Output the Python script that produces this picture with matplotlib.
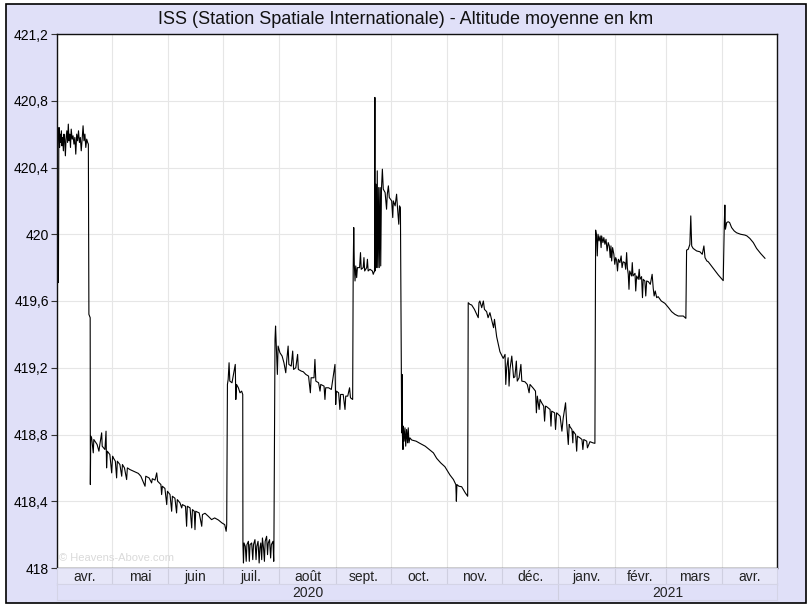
import numpy as np
import pandas as pd
import matplotlib
matplotlib.use('Agg')
import matplotlib.pyplot as plt
import matplotlib.dates as mdates
from matplotlib.patches import Rectangle

plt.rcParams['font.family'] = ['Liberation Sans', 'DejaVu Sans']

# jours depuis le 1er avril 2020 / altitude moyenne (km)
start = '2020-04-01'
day = [
    0.0, 0.3, 0.6, 0.8, 1.0, 1.1, 1.4, 1.7, 2.0, 2.4, 2.7, 3.1, 3.5, 3.8, 4.2, 4.6, 5.0, 5.4, 5.8,
    6.2, 6.6, 7.0, 7.4, 7.8, 8.3, 8.8, 9.3, 9.8, 10.3, 10.8, 11.3, 11.8, 12.3, 12.8, 13.3, 13.8,
    14.3, 14.8, 15.3, 15.8, 16.3, 16.8, 17.2, 17.5, 18.2, 18.3, 18.5,
    19.0, 19.9, 20.2, 20.8, 22.0, 23.0, 23.5, 24.5, 24.8, 26.3, 26.9, 27.2, 27.6, 29.0, 30.0, 30.5,
    30.9, 32.0, 32.7, 33.1, 34.5, 35.5, 35.9, 37.0, 38.2, 38.6, 40.0, 42.0, 44.6, 46.0, 48.3, 48.7,
    50.5, 51.9, 52.3, 53.8, 54.7, 55.2, 57.0, 57.4, 57.8, 59.2, 60.2, 60.6, 62.0, 62.9, 63.3, 64.7,
    65.6, 66.0, 67.5, 68.4, 68.8, 70.5, 71.1, 71.5, 72.0, 73.0, 73.9, 74.3, 75.3, 75.7, 76.1, 78.0,
    79.4, 79.8, 81.2, 83.0, 84.8, 86.5, 88.5, 90.5, 92.0, 92.8, 93.1,
    93.5, 93.9, 94.4, 94.8, 96.0, 97.8, 98.1, 98.5, 99.5, 100.4, 101.3, 101.9,
    102.0, 102.3, 102.6, 103.3, 103.8, 104.2, 105.0, 105.5, 105.9, 106.8, 107.4, 107.8, 108.6,
    109.2, 109.6, 110.3, 110.9, 111.3, 111.8, 112.3, 112.7, 113.3, 113.8, 114.2, 115.0, 115.5,
    115.9, 116.6, 117.2, 117.6, 118.5, 118.9, 119.0,
    119.6, 119.9, 120.3, 120.9, 121.3, 122.3, 123.5, 124.5, 125.5, 126.0, 126.8, 127.2, 128.5,
    129.3, 129.8, 131.0, 132.0, 132.4, 134.0, 135.1, 136.5, 138.0, 139.0, 139.4, 141.0, 141.5,
    142.0, 143.5, 144.3, 144.7, 146.5, 147.0, 147.4, 149.0, 150.5, 152.5, 152.9, 153.3, 154.5,
    155.2, 155.6, 157.0, 158.0, 158.4, 159.5, 160.5, 161.0, 162.2,
    162.5, 162.8, 163.1, 163.5, 163.9, 164.4, 164.8, 166.0, 166.5, 166.9, 168.0, 168.4, 168.8,
    169.9, 170.3, 170.7, 171.7, 173.0, 173.5, 174.2, 174.4, 174.5, 175.0, 175.3, 175.7, 176.0,
    176.5, 176.8, 177.3, 177.6, 178.0, 178.5, 179.0, 180.0, 180.8, 181.2, 181.8, 182.3, 183.6,
    184.2, 184.5, 185.5, 186.3, 186.8, 187.5, 187.9, 188.4,
    189.1, 189.3, 189.5, 189.8, 190.0, 190.4, 190.9, 191.3, 191.8, 192.3, 192.7, 193.1, 193.6,
    194.6, 197.0, 199.1, 202.0, 204.6, 206.5, 208.3, 210.5, 212.8, 214.3, 215.6, 217.5, 218.8,
    219.1, 219.4, 220.5, 222.0, 224.0, 225.3,
    225.6, 226.5, 227.5, 229.0, 231.1, 231.5, 232.0, 233.0, 233.9, 234.5, 235.7, 236.5, 237.5,
    238.5, 239.5, 240.0, 241.2, 243.0, 244.8, 245.8, 246.2, 246.7, 247.5, 248.0, 248.5, 249.5,
    250.5, 251.2, 252.0, 252.5, 253.5, 254.5, 255.0, 256.7, 258.0, 259.0, 259.5, 261.3, 262.5,
    263.0, 263.5, 264.5, 265.0, 265.9, 267.0, 267.5, 268.0, 268.6, 270.5, 271.0, 271.4, 273.0,
    273.5, 274.1, 276.0, 277.0, 277.7, 279.0, 279.6, 280.5, 281.0, 281.4, 282.5, 283.0, 283.2,
    284.5, 285.1, 285.5, 286.9, 288.0, 288.5, 289.0, 290.6, 291.0, 292.4, 294.0, 295.1,
    295.5, 296.0, 296.4, 296.8, 297.4, 298.0, 298.5, 298.8, 299.5, 300.0, 300.6, 301.2, 301.8,
    302.4, 303.0, 303.5, 303.9, 304.3, 304.8, 305.5, 306.0, 306.5, 307.0, 307.5, 308.0, 308.8,
    309.5, 310.0, 310.6, 311.5, 312.0, 312.5, 312.9, 313.4, 313.8, 314.2, 315.2, 315.6, 316.0,
    317.1, 317.5, 318.0, 318.9, 319.4, 319.8, 320.7, 321.2, 321.6, 322.5, 323.0, 323.5, 324.4,
    325.5, 326.5, 327.1, 327.6, 328.2, 329.0, 329.8, 331.5, 333.5, 335.5, 337.2, 339.0, 340.8,
    342.0, 343.6, 345.0,
    345.4, 346.3, 347.2, 347.7, 348.2, 349.0, 350.9, 352.7, 354.0, 354.9, 355.5, 356.5, 357.3,
    360.0, 362.8, 365.5,
    366.1, 366.4, 366.7, 367.4, 368.2, 369.0, 370.1, 371.5, 372.8, 375.0, 377.4, 378.5, 380.1,
    382.0, 383.8, 386.0, 388.4,
]
altitude_km = [
    419.83, 419.80, 419.71, 419.78, 420.62, 420.64, 420.52, 420.60, 420.55, 420.62, 420.53, 420.58,
    420.50, 420.60, 420.57, 420.47, 420.58, 420.62, 420.55, 420.66, 420.56, 420.60, 420.52, 420.63,
    420.57, 420.59, 420.54, 420.58, 420.48, 420.60, 420.56, 420.62, 420.55, 420.58, 420.50, 420.57,
    420.65, 420.56, 420.60, 420.52, 420.57, 420.55, 420.54, 419.52, 419.50, 418.50, 418.79,
    418.78, 418.69, 418.77, 418.76, 418.74, 418.70, 418.74, 418.81, 418.73, 418.71, 418.82, 418.60,
    418.70, 418.68, 418.57, 418.67, 418.66, 418.64, 418.54, 418.64, 418.62, 418.55, 418.62, 418.60,
    418.53, 418.60, 418.59, 418.58, 418.567, 418.55, 418.49, 418.55, 418.54, 418.51, 418.535,
    418.527, 418.57, 418.52, 418.50, 418.44, 418.49, 418.477, 418.38, 418.46, 418.44, 418.34,
    418.43, 418.418, 418.33, 418.41, 418.39, 418.36, 418.38, 418.37, 418.25, 418.37, 418.367,
    418.36, 418.24, 418.35, 418.34, 418.23, 418.34, 418.33, 418.25, 418.32, 418.328, 418.31,
    418.29, 418.30, 418.288, 418.27, 418.26, 418.22, 418.258,
    419.10, 419.13, 419.23, 419.12, 419.11, 419.22, 419.01, 419.10, 419.08, 419.05, 419.06, 419.04,
    418.14, 418.03, 418.15, 418.13, 418.04, 418.14, 418.16, 418.04, 418.14, 418.15, 418.05, 418.14,
    418.17, 418.05, 418.13, 418.16, 418.03, 418.12, 418.15, 418.05, 418.18, 418.12, 418.04, 418.16,
    418.19, 418.08, 418.15, 418.17, 418.06, 418.14, 418.16, 418.04, 418.13,
    419.37, 419.45, 419.34, 419.16, 419.33, 419.29, 419.27, 419.23, 419.17, 419.24, 419.33, 419.22,
    419.21, 419.30, 419.19, 419.20, 419.28, 419.19, 419.18, 419.176, 419.16, 419.15, 419.05,
    419.14, 419.14, 419.25, 419.12, 419.11, 419.06, 419.10, 419.09, 419.01, 419.08, 419.08,
    419.07, 419.22, 418.98, 419.06, 419.05, 418.95, 419.04, 419.04, 418.95, 419.03, 419.03,
    419.08, 419.02, 419.01,
    419.80, 420.04, 419.82, 419.72, 419.81, 419.74, 419.80, 419.80, 419.89, 419.79, 419.80, 419.86,
    419.78, 419.80, 419.85, 419.78, 419.79, 419.78, 419.76, 419.78, 420.82, 419.78, 420.30, 419.80,
    420.38, 419.80, 420.28, 419.80, 420.28, 419.81, 420.27, 420.39, 420.27, 420.25, 420.15, 420.24,
    420.29, 420.22, 420.20, 420.10, 420.20, 420.17, 420.24, 420.16, 420.06, 420.17, 420.16,
    418.81, 419.16, 418.80, 418.71, 418.85, 418.76, 418.84, 418.73, 418.83, 418.75, 418.84, 418.75,
    418.78, 418.767, 418.76, 418.747, 418.73, 418.707, 418.69, 418.657, 418.63, 418.607, 418.58,
    418.557, 418.53, 418.50, 418.40, 418.50, 418.49, 418.487, 418.45, 418.43,
    419.59, 419.58, 419.576, 419.55, 419.50, 419.59, 419.60, 419.56, 419.60, 419.55, 419.536,
    419.50, 419.53, 419.486, 419.44, 419.49, 419.386, 419.296, 419.256, 419.28, 419.10, 419.20,
    419.26, 419.09, 419.19, 419.27, 419.14, 419.146, 419.24, 419.12, 419.14, 419.22, 419.12,
    419.116, 419.10, 419.05, 419.10, 419.077, 419.06, 418.93, 419.03, 418.95, 419.01, 418.99,
    418.97, 418.88, 418.97, 418.967, 418.95, 418.85, 418.94, 418.93, 418.83, 418.93, 418.91,
    418.82, 418.897, 418.99, 418.87, 418.74, 418.86, 418.847, 418.83, 418.75, 418.82, 418.80,
    418.70, 418.79, 418.78, 418.77, 418.71, 418.77, 418.76, 418.72, 418.757, 418.75, 418.747,
    420.025, 419.99, 419.87, 420.00, 419.96, 419.99, 419.92, 419.99, 419.95, 419.98, 419.94,
    419.97, 419.90, 419.95, 419.93, 419.86, 419.93, 419.84, 419.92, 419.88, 419.82, 419.86,
    419.845, 419.78, 419.85, 419.83, 419.87, 419.80, 419.835, 419.83, 419.79, 419.89, 419.80,
    419.76, 419.67, 419.78, 419.75, 419.83, 419.75, 419.766, 419.66, 419.75, 419.73, 419.79,
    419.73, 419.746, 419.62, 419.73, 419.72, 419.63, 419.72, 419.716, 419.70, 419.76, 419.676,
    419.63, 419.66, 419.62, 419.626, 419.60, 419.586, 419.56, 419.536, 419.52, 419.51, 419.51,
    419.51, 419.496,
    419.905, 419.91, 419.94, 420.11, 419.93, 419.915, 419.90, 419.895, 419.88, 419.93, 419.86,
    419.84, 419.835, 419.796, 419.756, 419.722,
    420.07, 420.175, 420.03, 420.07, 420.075, 420.07, 420.04, 420.02, 420.009, 420.00, 419.995,
    419.99, 419.975, 419.95, 419.915, 419.885, 419.856,
]

month_labels = ['avr.', 'mai', 'juin', 'juil.', 'août', 'sept.', 'oct.',
                'nov.', 'déc.', 'janv.', 'févr.', 'mars', 'avr.']
year_labels = ['2020', '2021']
y_ticks = [418, 418.4, 418.8, 419.2, 419.6, 420, 420.4, 420.8, 421.2]

W, H = 812, 613
LAV = '#E0E0F8'


def box(l, t, r, b):
    return [l / W, 1 - b / H, (r - l) / W, (b - t) / H]


x = mdates.datestr2num(start) + np.array(day)
months = pd.date_range('2020-04-01', '2021-05-01', freq='MS')
mnum = mdates.date2num(months)
xlim = (mnum[0], mnum[-1])

fig = plt.figure(figsize=(W / 100, H / 100), dpi=100)
fig.patch.set_facecolor('white')
fig.patches.append(Rectangle((6 / W, 1 - 603 / H), 800 / W, 599 / H, transform=fig.transFigure,
                             facecolor=LAV, edgecolor='black', linewidth=1.2, zorder=-10))

fig.text(406 / W, 1 - 20 / H, 'ISS (Station Spatiale Internationale) - Altitude moyenne en km',
         ha='center', va='center', fontsize=13, color='#111111')

# zone de tracé
ax = fig.add_axes(box(57, 34, 777, 568))
ax.set_facecolor('white')
ax.plot(x, altitude_km, color='black', linewidth=0.8)
ax.set_xlim(xlim)
ax.set_ylim(418, 421.2)
ax.set_xticks(mnum)
ax.set_xticklabels([])
ax.tick_params(axis='x', length=0)
ax.set_yticks(y_ticks)
ax.set_yticklabels([f'{round(v, 1):g}'.replace('.', ',') for v in y_ticks], fontsize=10)
ax.tick_params(axis='y', length=4, width=0.8, color='#333333', pad=2)
ax.grid(True, color='#E6E6E6', linewidth=0.8)
ax.set_axisbelow(True)
for s in ax.spines.values():
    s.set_color('#111111')
    s.set_linewidth(1)
ax.text(0.003, 0.01, '© Heavens-Above.com', transform=ax.transAxes,
        color='#DADADA', fontsize=8, ha='left', va='bottom')

# bande des mois
ax_m = fig.add_axes(box(57, 568, 777, 584))
ax_m.set_facecolor('#E6E6F8')
ax_m.set_xlim(xlim)
ax_m.set_ylim(0, 1)
for m in mnum[1:-1]:
    ax_m.axvline(m, color='#CFCFE0', linewidth=0.8)
for a, b, lab in zip(mnum[:-1], mnum[1:], month_labels):
    ax_m.text((a + b) / 2, 0.45, lab, ha='center', va='center', fontsize=10, color='#222222')

# bande des années
ax_y = fig.add_axes(box(57, 584, 777, 600))
ax_y.set_facecolor(LAV)
ax_y.set_xlim(xlim)
ax_y.set_ylim(0, 1)
ybounds = mdates.date2num(pd.to_datetime(['2020-04-01', '2021-01-01', '2021-05-01']))
ax_y.axvline(ybounds[1], color='#CFCFE0', linewidth=0.8)
for a, b, lab in zip(ybounds[:-1], ybounds[1:], year_labels):
    ax_y.text((a + b) / 2, 0.45, lab, ha='center', va='center', fontsize=10, color='#222222')

for a in (ax_m, ax_y):
    a.set_xticks([])
    a.set_yticks([])
    for s in a.spines.values():
        s.set_color('#D4D4E6')
        s.set_linewidth(0.8)

fig.savefig('out.png', dpi=100)
